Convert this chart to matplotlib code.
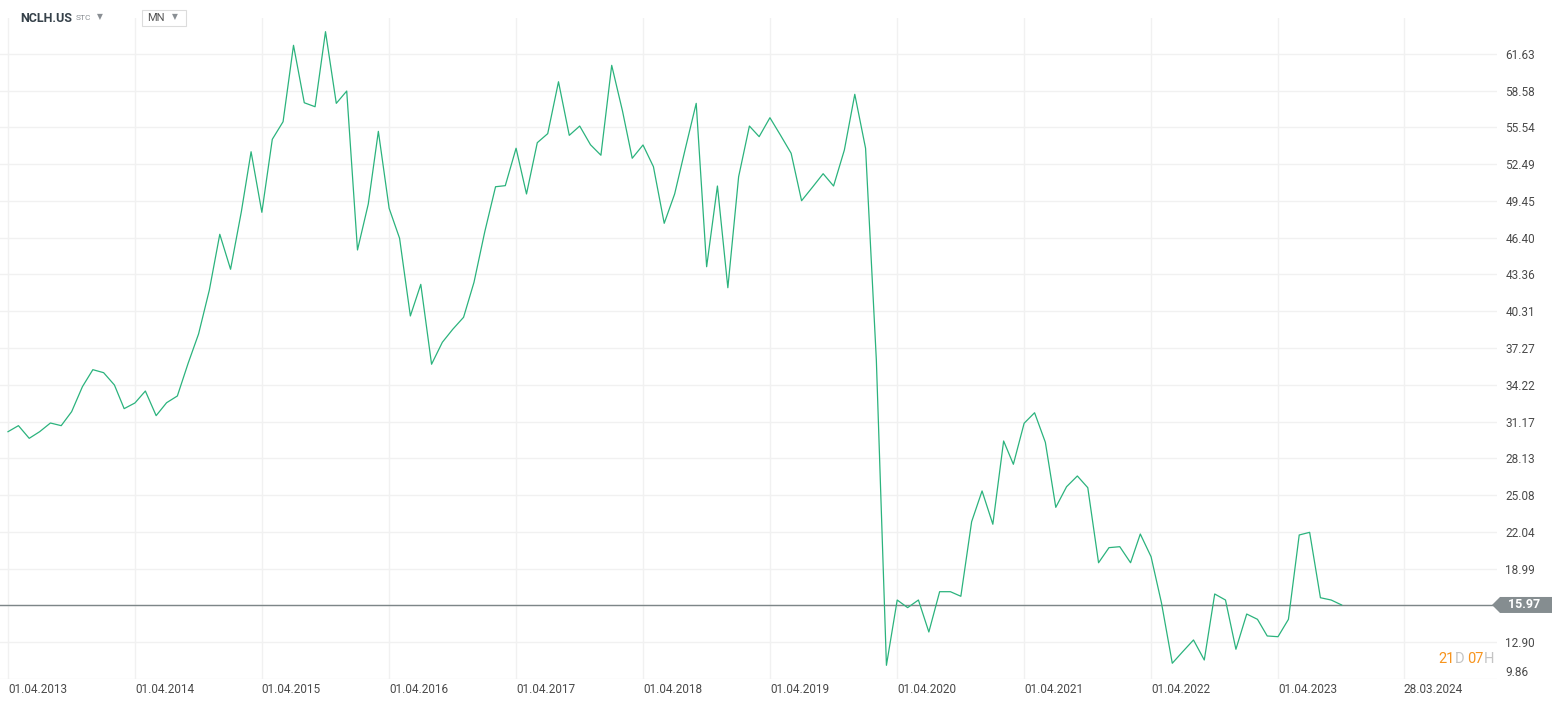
import numpy as np
import pandas as pd
import matplotlib
matplotlib.use('Agg')
import matplotlib.pyplot as plt
import matplotlib.dates as mdates
import matplotlib.transforms as mtransforms
from matplotlib.patches import Polygon, Rectangle

plt.rcParams['font.family'] = ['Roboto', 'DejaVu Sans']

# monthly close, NCLH.US, Apr 2013 .. Oct 2023
close = [30.33, 30.83, 29.78, 30.33, 31.05, 30.83, 31.99, 34.06, 35.47, 35.22, 34.20, 32.24,
         32.71, 33.70, 31.66, 32.73, 33.29, 36.00, 38.43, 42.07, 46.69, 43.79, 48.56, 53.53,
         48.51, 54.56, 56.02, 62.35, 57.59, 57.26, 63.48, 57.54, 58.56, 45.39, 49.20, 55.22,
         48.84, 46.36, 39.92, 42.54, 35.92, 37.74, 38.82, 39.81, 42.71, 46.90, 50.63, 50.72,
         53.82, 50.03, 54.28, 55.03, 59.33, 54.89, 55.66, 54.11, 53.24, 60.69, 56.91, 52.99,
         54.09, 52.29, 47.60, 50.03, 53.82, 57.54, 44.00, 50.69, 42.26, 51.46, 55.66, 54.78,
         56.35, 54.92, 53.40, 49.47, 50.58, 51.71, 50.69, 53.67, 58.29, 53.82, 36.27, 10.97,
         16.38, 15.75, 16.38, 13.73, 17.07, 17.07, 16.69, 22.87, 25.42, 22.66, 29.56, 27.63,
         31.03, 31.90, 29.45, 24.06, 25.77, 26.66, 25.69, 19.47, 20.72, 20.80, 19.47, 21.85,
         19.97, 16.13, 11.14, 12.10, 13.07, 11.41, 16.88, 16.38, 12.30, 15.22, 14.78, 13.40,
         13.34, 14.78, 21.77, 21.99, 16.57, 16.38, 15.97]
months = pd.date_range('2013-04-01', periods=len(close), freq='MS')
last_price = 15.97

y_ticks = [61.63, 58.58, 55.54, 52.49, 49.45, 46.40, 43.36, 40.31, 37.27, 34.22,
           31.17, 28.13, 25.08, 22.04, 18.99, 12.90, 9.86]
x_tick_dates = ['2013-04-01', '2014-04-01', '2015-04-01', '2016-04-01', '2017-04-01',
                '2018-04-01', '2019-04-01', '2020-04-01', '2021-04-01', '2022-04-01',
                '2023-04-01', '2024-03-28']
x_tick_labels = [pd.Timestamp(d).strftime('%d.%m.%Y') for d in x_tick_dates]

W, H = 1564, 704
fig = plt.figure(figsize=(W / 100, H / 100), dpi=100)
fig.patch.set_facecolor('white')
ax = fig.add_axes([0, (H - 678.7) / H, 1497 / W, (678.7 - 18) / H])

ax.plot(months, close, color='#2bb37d', linewidth=0.9, zorder=3)
ax.axhline(last_price, color='#7d8688', linewidth=1.0, zorder=2)

d0 = mdates.date2num(pd.Timestamp('2013-04-01'))
px_day = 1270 / 3652
ax.set_xlim(d0 - 8 / px_day, d0 + (1497 - 8) / px_day)
ax.set_ylim(9.86, 61.63 + 36 * 0.08287)

ax.set_xticks([mdates.date2num(pd.Timestamp(d)) for d in x_tick_dates])
ax.set_xticklabels(x_tick_labels, ha='left', fontsize=8.5, color='#4a4a4a')
ax.set_yticks(y_ticks + [15.95])
ax.set_yticklabels(['%.2f' % v for v in y_ticks] + [''], fontsize=8.5, color='#4a4a4a')
ax.yaxis.tick_right()
ax.tick_params(axis='both', length=0)
ax.tick_params(axis='y', pad=6)
ax.tick_params(axis='x', pad=3)
ax.get_yticklabels()[len(y_ticks) - 1].set_va('bottom')

ax.grid(True, color='#f1f1f1', linewidth=1.0)
ax.set_axisbelow(True)
for s in ax.spines.values():
    s.set_visible(False)

# price tag on the right
tr = mtransforms.blended_transform_factory(ax.transAxes, ax.transData)
dy = 8 * 0.08287
x_tip, x_body, x_end = 1492 / 1497, 1500 / 1497, 1552 / 1497
tag = Polygon([[x_tip, last_price], [x_body, last_price + dy], [x_end, last_price + dy],
               [x_end, last_price - dy], [x_body, last_price - dy]],
              closed=True, transform=tr, facecolor='#858d90', edgecolor='none',
              clip_on=False, zorder=5)
ax.add_patch(tag)
ax.text(1524 / 1497, last_price, '%.2f' % last_price, transform=tr, ha='center', va='center',
        color='white', fontsize=9, fontweight='bold', clip_on=False, zorder=6)

# countdown
fig.text(1438 / W, 1 - 659 / H, '21', color='#f7941d', fontsize=10.5, va='center', ha='left')
fig.text(1455 / W, 1 - 659 / H, 'D', color='#c4c4c4', fontsize=10.5, va='center', ha='left')
fig.text(1467 / W, 1 - 659 / H, '07', color='#f7941d', fontsize=10.5, va='center', ha='left')
fig.text(1484 / W, 1 - 659 / H, 'H', color='#c4c4c4', fontsize=10.5, va='center', ha='left')

# header
fig.text(20 / W, 1 - 18 / H, 'NCLH.US', color='#36414a', fontsize=9, fontweight='bold', va='center')
fig.text(75.5 / W, 1 - 18.5 / H, 'STC', color='#8a8f94', fontsize=6, va='center')
fig.text(97 / W, 1 - 17 / H, '▼', color='#8a8f94', fontsize=5.5, va='center',
         family=['DejaVu Sans'])
fig.patches.append(Rectangle((142 / W, 1 - 26 / H), 44 / W, 16 / H, transform=fig.transFigure,
                             facecolor='white', edgecolor='#dcdcdc', linewidth=0.8))
fig.text(147 / W, 1 - 18 / H, 'MN', color='#555555', fontsize=8, va='center')
fig.text(172 / W, 1 - 17 / H, '▼', color='#8a8f94', fontsize=5.5, va='center',
         family=['DejaVu Sans'])

fig.savefig('out.png', dpi=100)
